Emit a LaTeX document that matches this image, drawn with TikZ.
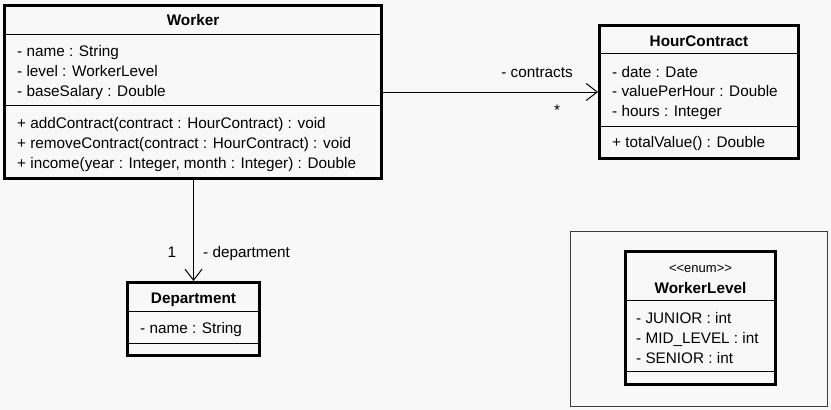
\documentclass[tikz,border=0pt]{standalone}
\usepackage{fontspec}
\setmainfont{Liberation Sans}
\usetikzlibrary{arrows.meta}
\definecolor{bgc}{RGB}{248,248,248}
\definecolor{framec}{RGB}{60,60,60}
\newcommand{\ufont}{\fontsize{15.3}{20}\selectfont}
\newcommand{\sfont}{\fontsize{13}{15}\selectfont}
\tikzset{
  cls/.style={draw=black, line width=3pt, fill=bgc, inner sep=0pt},
  sepline/.style={line width=1pt, black},
  txt/.style={anchor=base west, inner sep=0pt, font=\ufont},
  ttl/.style={anchor=base, inner sep=0pt, font=\ufont\bfseries},
  lbl/.style={anchor=base, inner sep=0pt, font=\ufont},
  assoc/.style={line width=1pt, -{Straight Barb[length=11pt,width=17pt,line width=1pt]}},
}
\begin{document}
\begin{tikzpicture}[x=1pt,y=-1pt]
\useasboundingbox (0,0) rectangle (831,410);
\fill[bgc] (0,0) rectangle (831,410);

% Worker
\node[cls, minimum width=377pt, minimum height=173pt] (worker) at (193,92) {};
\draw[sepline] (worker.west |- 0,34) -- (worker.east |- 0,34);
\draw[sepline] (worker.west |- 0,105) -- (worker.east |- 0,105);
\node[ttl] (wt) at (193,25.5) {Worker};
\node[txt] (w1) at (17,56) {- name : String};
\node[txt] (w2) at (17,76.5) {- level : WorkerLevel};
\node[txt] (w3) at (17,96.5) {- baseSalary : Double};
\node[txt] (w4) at (17,128) {+ addContract(contract : HourContract) : void};
\node[txt] (w5) at (17,148) {+ removeContract(contract : HourContract) : void};
\node[txt] (w6) at (17,168) {+ income(year : Integer, month : Integer) : Double};

% HourContract
\node[cls, minimum width=199pt, minimum height=133pt] (hc) at (699,92) {};
\draw[sepline] (hc.west |- 0,53) -- (hc.east |- 0,53);
\draw[sepline] (hc.west |- 0,126) -- (hc.east |- 0,126);
\node[ttl] (ht) at (699,46.5) {HourContract};
\node[txt] (h1) at (612,77.5) {- date : Date};
\node[txt] (h2) at (612,96.5) {- valuePerHour : Double};
\node[txt] (h3) at (612,116.5) {- hours : Integer};
\node[txt] (h4) at (612,147.5) {+ totalValue() : Double};

% Department
\node[cls, minimum width=132pt, minimum height=73pt] (dept) at (193.5,319) {};
\draw[sepline] (dept.west |- 0,311) -- (dept.east |- 0,311);
\draw[sepline] (dept.west |- 0,343) -- (dept.east |- 0,343);
\node[ttl] (dt) at (193.5,303.5) {Department};
\node[txt] (d1) at (140,333.5) {- name : String};

% Enum frame
\node[draw=framec, line width=1pt, minimum width=257pt, minimum height=175pt, inner sep=0pt] (frame) at (699,319) {};

% WorkerLevel
\node[cls, minimum width=150pt, minimum height=133pt] (wl) at (700.5,318) {};
\draw[sepline] (wl.west |- 0,300) -- (wl.east |- 0,300);
\draw[sepline] (wl.west |- 0,371) -- (wl.east |- 0,371);
\node[anchor=base, inner sep=0pt, font=\sfont] (ws) at (700.5,272.5) {{<}{<}enum{>}{>}};
\node[ttl] (wlt) at (700.5,293.5) {WorkerLevel};
\node[txt] (l1) at (636,323.5) {- JUNIOR : int};
\node[txt] (l2) at (636,343.5) {- MID\_LEVEL : int};
\node[txt] (l3) at (636,363.5) {- SENIOR : int};

% Associations
\draw[assoc] (worker.east) -- (hc.west);
\node[lbl] (lc) at (537,77.5) {- contracts};
\node[lbl] (ls) at (557,115) {*};
\draw[assoc] (dept.north |- worker.south) -- (dept.north);
\node[lbl] (l1m) at (172,257.5) {1};
\node[txt] (ld) at (203,257.5) {- department};
\end{tikzpicture}
\end{document}
